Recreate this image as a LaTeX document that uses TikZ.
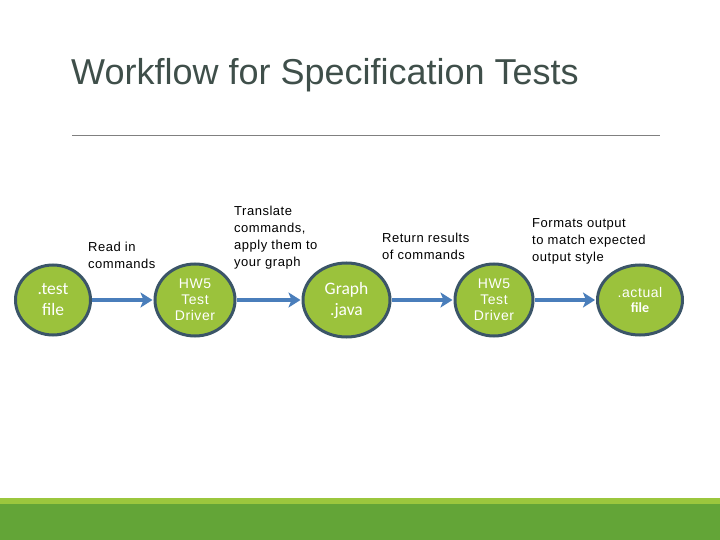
\documentclass[tikz,border=0pt]{standalone}
\usepackage{fontspec}
\setmainfont{Liberation Sans}
\newfontfamily\carl{Carlito}
\newfontfamily\lblfont[LetterSpace=4]{Liberation Sans}
\usetikzlibrary{arrows.meta,shapes.geometric}
\definecolor{nodegreen}{HTML}{9BC23C}
\definecolor{nodeedge}{HTML}{3B5568}
\definecolor{arrblue}{HTML}{4A7EBB}
\definecolor{titlegray}{HTML}{3F4F4A}
\definecolor{barlight}{HTML}{9BC73D}
\definecolor{bardark}{HTML}{63A537}
\tikzset{
  stage/.style={ellipse, draw=nodeedge, line width=3pt, fill=nodegreen, text=white, inner sep=0pt, align=center},
  cfont/.style={font=\carl\fontsize{17.5}{21}\selectfont},
  afont/.style={font=\lblfont\fontsize{14}{16}\selectfont},
  lbl/.style={anchor=west, inner sep=0pt, align=left, font=\lblfont\fontsize{13}{17}\selectfont, text=black},
  arr/.style={draw=arrblue, line width=4pt, -{Stealth[length=12pt,width=15pt,inset=3pt]}, shorten >=1pt}
}
\begin{document}
\begin{tikzpicture}[x=1pt,y=-1pt]
\useasboundingbox (0,0) rectangle (720,540);
\fill[white] (0,0) rectangle (720,540);
% title
\node[anchor=west, inner sep=0pt, text=titlegray, font=\fontsize{36}{42}\selectfont] (title) at (71,75) {Workflow for Specification Tests};
\draw[gray, line width=1pt] (72,136) -- (660,136);
% bottom bars
\fill[barlight] (0,498) rectangle (720,504);
\fill[bardark] (0,504) rectangle (720,540);
% stages
\node[stage, cfont, minimum width=75pt, minimum height=70pt] (tf) at (53,300) {.test\\file};
\node[stage, afont, minimum width=80pt, minimum height=72pt] (d1) at (195,300) {HW5\\Test\\Driver};
\node[stage, cfont, minimum width=87pt, minimum height=74pt] (gj) at (346.5,300) {Graph\\.java};
\node[stage, afont, minimum width=78pt, minimum height=72pt] (d2) at (494,300) {HW5\\Test\\Driver};
\node[stage, minimum width=85pt, minimum height=70pt] (af) at (640,300) {{\lblfont\fontsize{14}{17}\selectfont .actual}\\[3pt]{\carl\bfseries\fontsize{14}{17}\selectfont file}};
% arrows
\draw[arr] (tf) -- (d1);
\draw[arr] (d1) -- (gj);
\draw[arr] (gj) -- (d2);
\draw[arr] (d2) -- (af);
% labels
\node[lbl] (l1) at (88,255.5) {Read in\\commands};
\node[lbl] (l2) at (234,237.5) {Translate\\commands,\\apply them to\\your graph};
\node[lbl] (l3) at (382,246.5) {Return results\\of commands};
\node[lbl] (l4) at (532,241) {Formats output\\to match expected\\output style};
\end{tikzpicture}
\end{document}
